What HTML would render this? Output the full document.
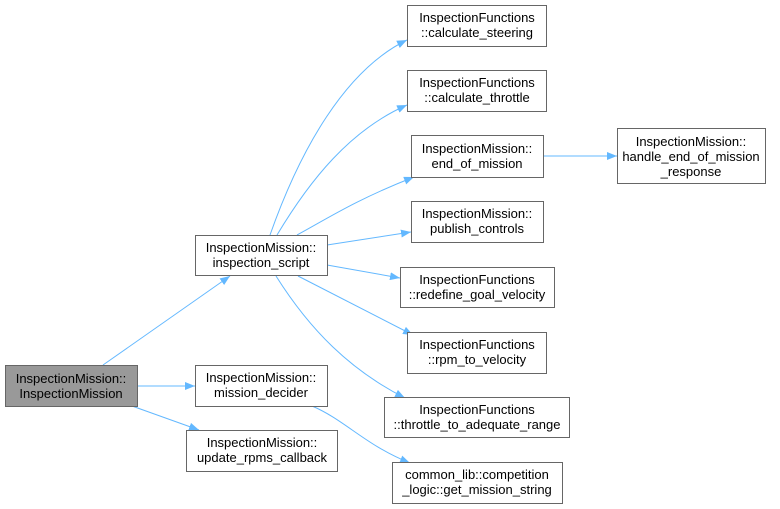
<!DOCTYPE html>
<html><head><meta charset="utf-8"><style>
html,body{margin:0;padding:0;background:#fff;}
svg{display:block}
text{font-family:"Liberation Sans",Helvetica,Arial,sans-serif;font-size:13px;fill:#000;}
</style></head><body>
<svg width="780" height="509" viewBox="0 0 780 509" xmlns="http://www.w3.org/2000/svg">
<defs>
<marker id="a" markerWidth="10" markerHeight="8" refX="10" refY="4" orient="auto" markerUnits="userSpaceOnUse">
<path d="M0,0 L10,4 L0,8 z" fill="#63b8ff"/>
</marker>
</defs>
<g fill="none" stroke="#63b8ff" stroke-width="1" marker-end="url(#a)">
<path d="M103,365 L230,276"/>
<path d="M137,386 L195,386"/>
<path d="M132,406 L199,430"/>
<path d="M270,235 C300,150 345,70 407,40"/>
<path d="M277,235 C310,180 350,130 407,105"/>
<path d="M297,235 C325,220 355,200 414,177"/>
<path d="M327,245 L411,232"/>
<path d="M327,265 L400,278"/>
<path d="M298,276 L413,335"/>
<path d="M276,276 C310,330 350,370 405,398"/>
<path d="M312,406 C345,420 365,445 410,463"/>
<path d="M543,156 L617,156"/>
</g>
<g stroke="#666" stroke-width="1">
<rect x="5.5" y="365.5" width="132" height="41" fill="#999"/>
<rect x="195.5" y="235.5" width="132" height="40" fill="#fff"/>
<rect x="195.5" y="365.5" width="132" height="41" fill="#fff"/>
<rect x="186.5" y="430.5" width="151" height="41" fill="#fff"/>
<rect x="407.5" y="5.5" width="139" height="41" fill="#fff"/>
<rect x="407.5" y="70.5" width="139" height="41" fill="#fff"/>
<rect x="411.5" y="135.5" width="132" height="42" fill="#fff"/>
<rect x="617.5" y="128.5" width="148" height="55" fill="#fff"/>
<rect x="411.5" y="201.5" width="132" height="41" fill="#fff"/>
<rect x="400.5" y="267.5" width="154" height="40" fill="#fff"/>
<rect x="407.5" y="332.5" width="139" height="41" fill="#fff"/>
<rect x="384.5" y="397.5" width="185" height="40" fill="#fff"/>
<rect x="392.5" y="462.5" width="170" height="41" fill="#fff"/>
</g>
<g text-anchor="middle">
<text x="71" y="383">InspectionMission::</text><text x="71" y="398">InspectionMission</text>
<text x="261" y="252">InspectionMission::</text><text x="261" y="267">inspection_script</text>
<text x="261" y="382">InspectionMission::</text><text x="261" y="397">mission_decider</text>
<text x="262" y="447">InspectionMission::</text><text x="262" y="462">update_rpms_callback</text>
<text x="477" y="22">InspectionFunctions</text><text x="477" y="37">::calculate_steering</text>
<text x="477" y="87">InspectionFunctions</text><text x="477" y="102">::calculate_throttle</text>
<text x="477" y="153">InspectionMission::</text><text x="477" y="168">end_of_mission</text>
<text x="691" y="146">InspectionMission::</text><text x="691" y="161">handle_end_of_mission</text><text x="691" y="176">_response</text>
<text x="477" y="218">InspectionMission::</text><text x="477" y="233">publish_controls</text>
<text x="477" y="284">InspectionFunctions</text><text x="477" y="299">::redefine_goal_velocity</text>
<text x="477" y="349">InspectionFunctions</text><text x="477" y="364">::rpm_to_velocity</text>
<text x="477" y="414">InspectionFunctions</text><text x="477" y="429">::throttle_to_adequate_range</text>
<text x="477" y="479">common_lib::competition</text><text x="477" y="494">_logic::get_mission_string</text>
</g>
</svg>
</body></html>
